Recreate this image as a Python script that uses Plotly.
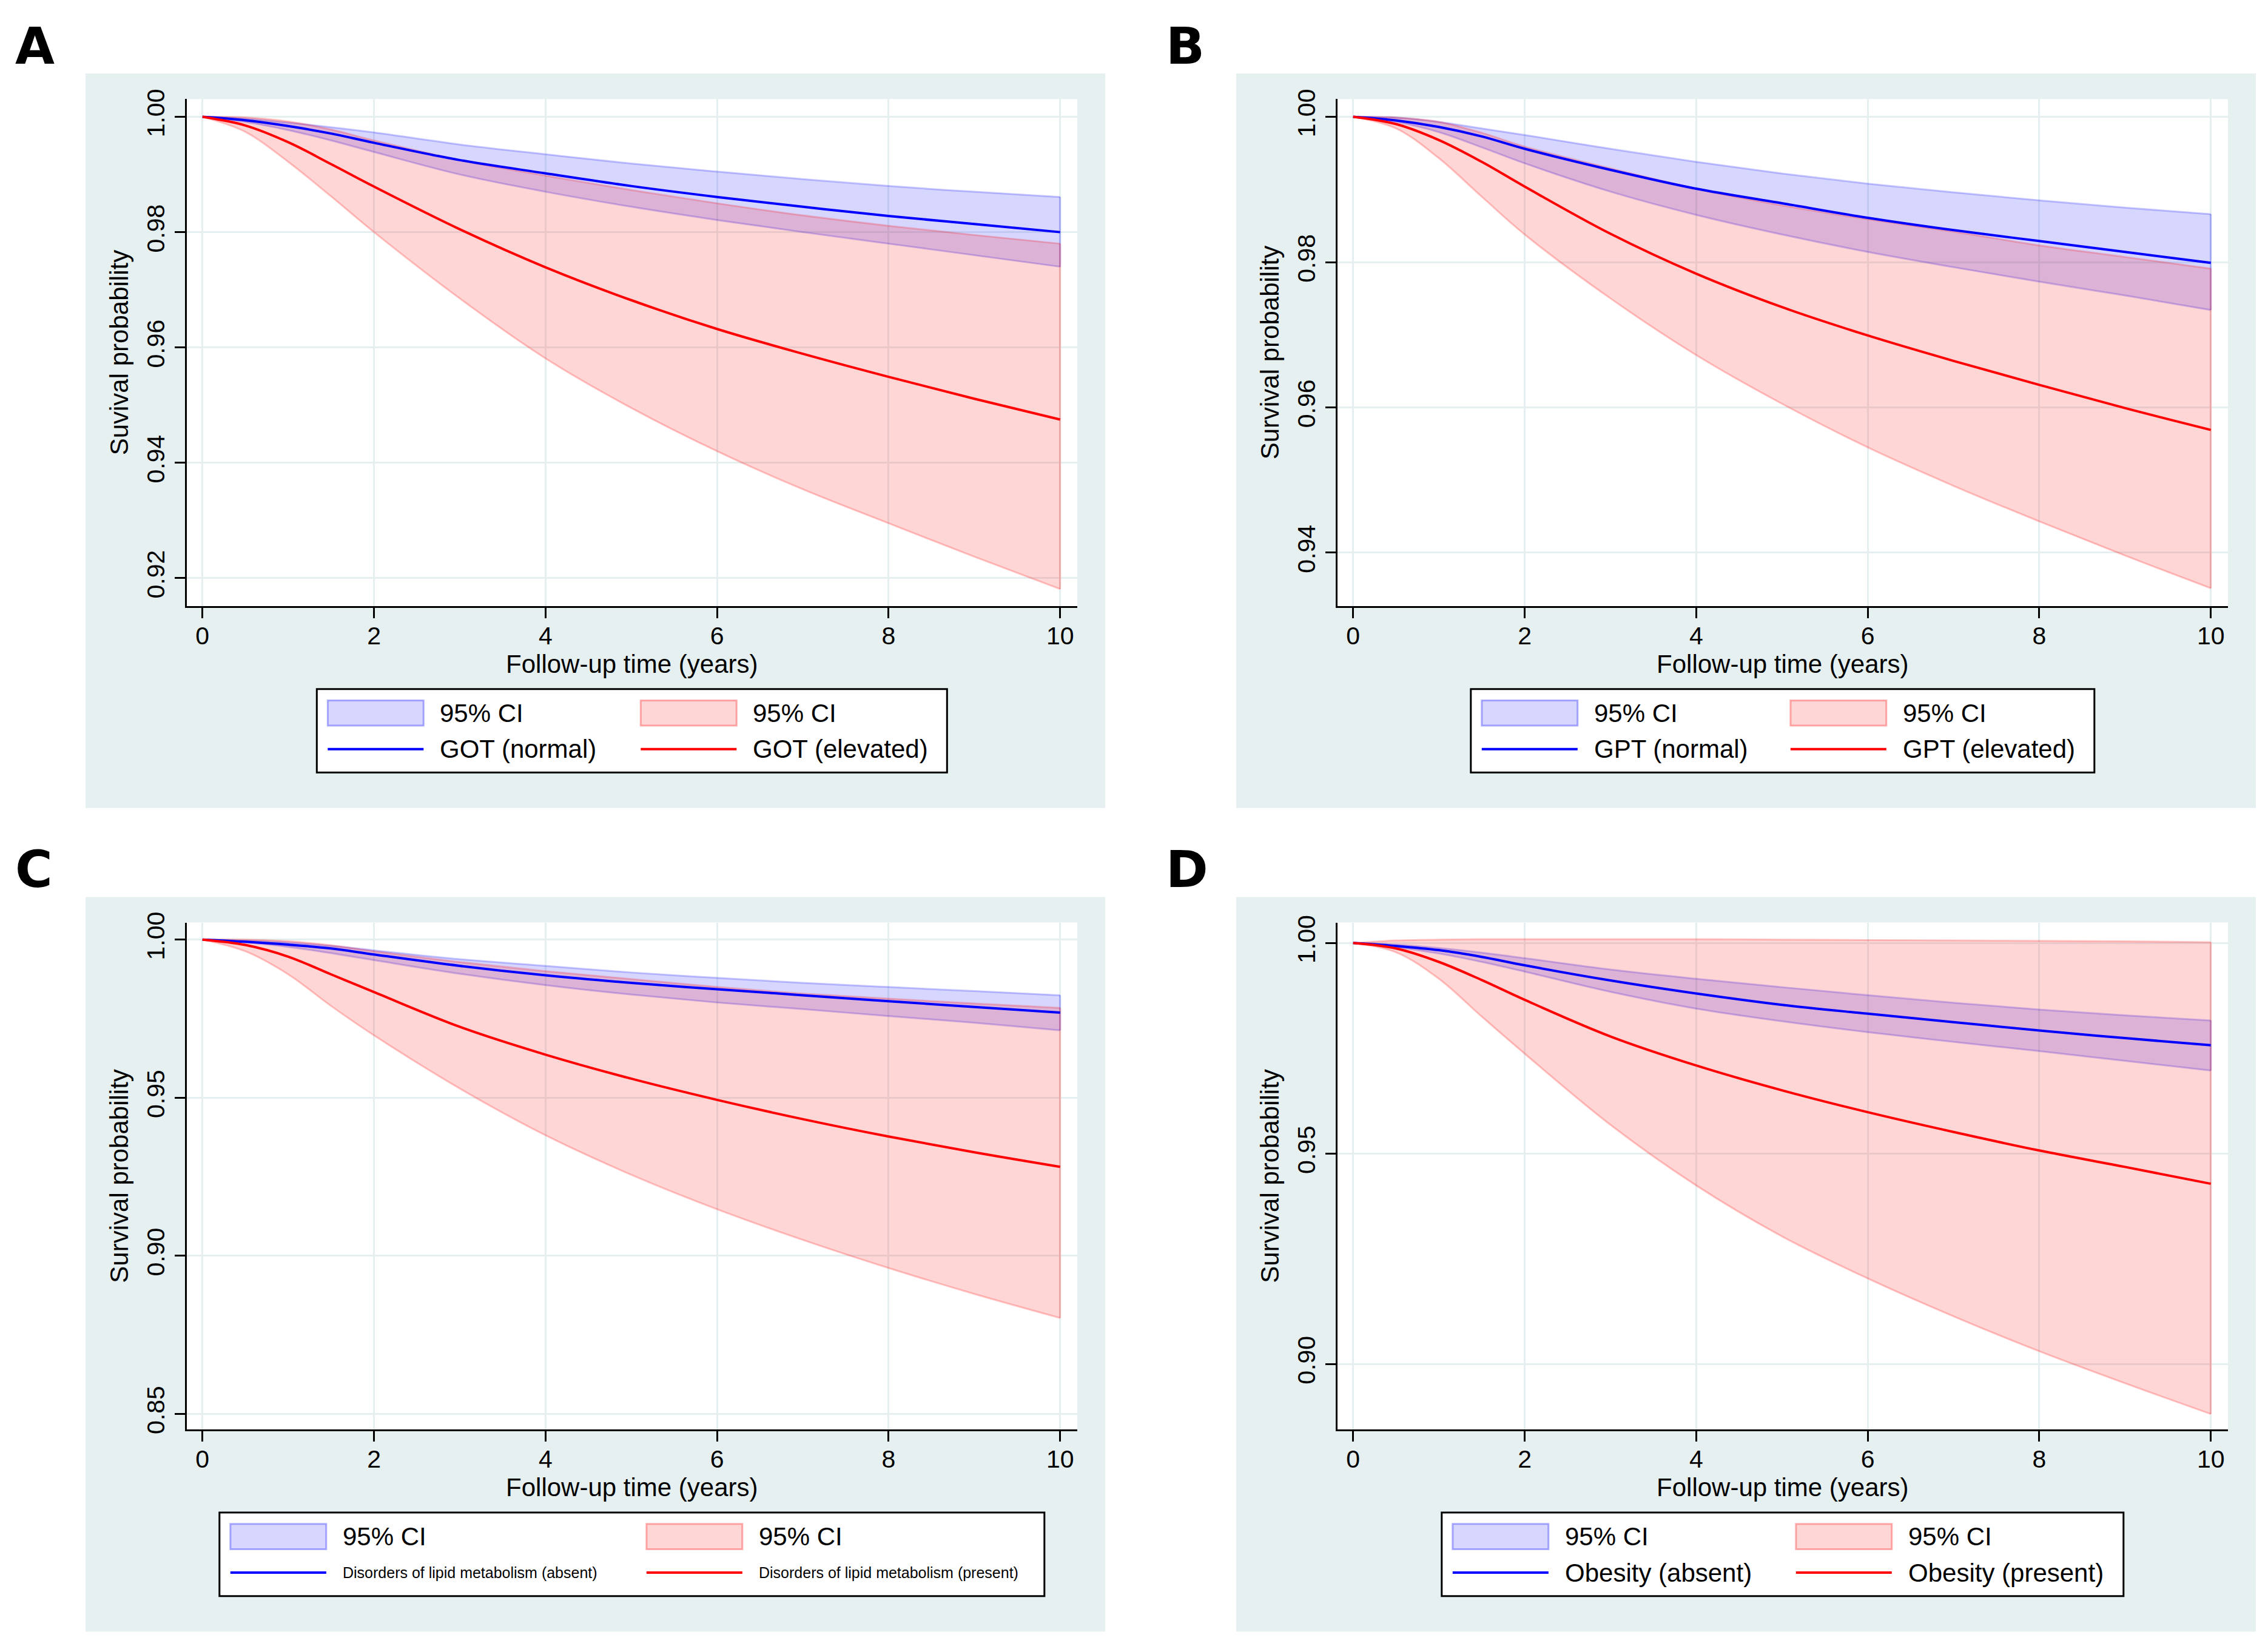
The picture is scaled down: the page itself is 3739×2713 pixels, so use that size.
import plotly.graph_objects as go

W, H = 3739, 2713
OFF = 8  # page margin around the plot div

years = [0, 0.5, 1, 1.5, 2, 3, 4, 5, 6, 7, 8, 9, 10]

# A: GOT
got_normal = [1.0, 0.9994, 0.9984, 0.9971, 0.9955, 0.9925, 0.9902, 0.9880, 0.9861, 0.9844, 0.9828, 0.9814, 0.9800]
got_normal_hi = [1.0, 0.9997, 0.9990, 0.9982, 0.9973, 0.9952, 0.9935, 0.9919, 0.9905, 0.9892, 0.9880, 0.9870, 0.9861]
got_normal_lo = [1.0, 0.9991, 0.9977, 0.9959, 0.9939, 0.9900, 0.9870, 0.9844, 0.9821, 0.9800, 0.9780, 0.9760, 0.9740]
got_elev = [1.0, 0.9985, 0.9956, 0.9918, 0.9879, 0.9805, 0.9739, 0.9682, 0.9632, 0.9589, 0.9549, 0.9511, 0.9475]
got_elev_hi = [1.0, 0.9999, 0.9992, 0.9978, 0.9959, 0.9925, 0.9898, 0.9873, 0.9850, 0.9829, 0.9811, 0.9795, 0.9780]
got_elev_lo = [1.0, 0.9974, 0.9922, 0.9862, 0.9800, 0.9685, 0.9581, 0.9495, 0.9420, 0.9354, 0.9295, 0.9237, 0.9181]

# B: GPT
gpt_normal = [1.0, 0.9995, 0.9986, 0.9973, 0.9956, 0.9927, 0.9901, 0.9881, 0.9861, 0.9844, 0.9829, 0.9814, 0.9799]
gpt_normal_hi = [1.0, 0.9999, 0.9993, 0.9984, 0.9975, 0.9956, 0.9938, 0.9922, 0.9908, 0.9896, 0.9885, 0.9875, 0.9866]
gpt_normal_lo = [1.0, 0.9993, 0.9979, 0.9958, 0.9936, 0.9897, 0.9865, 0.9838, 0.9814, 0.9793, 0.9773, 0.9754, 0.9734]
gpt_elev = [1.0, 0.9990, 0.9968, 0.9938, 0.9904, 0.9839, 0.9784, 0.9738, 0.9699, 0.9664, 0.9631, 0.9599, 0.9569]
gpt_elev_hi = [1.0, 0.9999, 0.9993, 0.9978, 0.9959, 0.9929, 0.9901, 0.9878, 0.9859, 0.9842, 0.9823, 0.9807, 0.9791]
gpt_elev_lo = [1.0, 0.9984, 0.9943, 0.9890, 0.9838, 0.9750, 0.9672, 0.9605, 0.9545, 0.9492, 0.9443, 0.9396, 0.9351]

# C: disorders of lipid metabolism
lipid_absent = [1.0, 0.9993, 0.9984, 0.9972, 0.9953, 0.9917, 0.9887, 0.9863, 0.9843, 0.9824, 0.9805, 0.9787, 0.9769]
lipid_absent_hi = [1.0, 0.9997, 0.9991, 0.9980, 0.9966, 0.9938, 0.9917, 0.9896, 0.9879, 0.9863, 0.9850, 0.9837, 0.9824]
lipid_absent_lo = [1.0, 0.9991, 0.9977, 0.9957, 0.9935, 0.9892, 0.9856, 0.9826, 0.9801, 0.9780, 0.9758, 0.9737, 0.9713]
lipid_present = [1.0, 0.9983, 0.9946, 0.9890, 0.9834, 0.9724, 0.9636, 0.9560, 0.9493, 0.9432, 0.9377, 0.9327, 0.9281]
lipid_present_hi = [1.0, 1.0, 0.9995, 0.9982, 0.9963, 0.9929, 0.9900, 0.9875, 0.9850, 0.9829, 0.9813, 0.9798, 0.9784]
lipid_present_lo = [1.0, 0.9963, 0.9890, 0.9790, 0.9697, 0.9529, 0.9381, 0.9256, 0.9147, 0.9050, 0.8961, 0.8879, 0.8803]

# D: obesity
obes_absent = [1.0, 0.9993, 0.9983, 0.9967, 0.9947, 0.9911, 0.9880, 0.9853, 0.9832, 0.9812, 0.9792, 0.9774, 0.9757]
obes_absent_hi = [1.0, 0.9996, 0.9988, 0.9977, 0.9964, 0.9937, 0.9915, 0.9895, 0.9876, 0.9858, 0.9842, 0.9828, 0.9816]
obes_absent_lo = [1.0, 0.9990, 0.9975, 0.9955, 0.9932, 0.9884, 0.9844, 0.9814, 0.9788, 0.9765, 0.9743, 0.9720, 0.9697]
obes_present = [1.0, 0.9987, 0.9955, 0.9912, 0.9865, 0.9778, 0.9709, 0.9650, 0.9598, 0.9551, 0.9507, 0.9468, 0.9428]
obes_present_hi = [1.0, 1.0006, 1.0008, 1.0009, 1.0009, 1.0009, 1.0009, 1.0008, 1.0007, 1.0006, 1.0005, 1.0004, 1.0002]
obes_present_lo = [1.0, 0.9978, 0.9915, 0.9825, 0.9737, 0.9568, 0.9424, 0.9303, 0.9203, 0.9113, 0.9030, 0.8954, 0.8881]

x_ticks = [0, 2, 4, 6, 8, 10]
y_ticks_a = [0.92, 0.94, 0.96, 0.98, 1.00]
y_ticks_b = [0.94, 0.96, 0.98, 1.00]
y_ticks_c = [0.85, 0.90, 0.95, 1.00]
y_ticks_d = [0.90, 0.95, 1.00]

names_a = ["GOT (normal)", "GOT (elevated)"]
names_b = ["GPT (normal)", "GPT (elevated)"]
names_c = ["Disorders of lipid metabolism (absent)", "Disorders of lipid metabolism (present)"]
names_d = ["Obesity (absent)", "Obesity (present)"]

panels = [
    dict(letter="A", col=0, row=0, ylab="Suvival probability", yticks=y_ticks_a, yrange=[0.91514, 1.00309],
         blue=(got_normal, got_normal_lo, got_normal_hi), red=(got_elev, got_elev_lo, got_elev_hi),
         names=names_a, leg_w=1039, col_w=516, small=False),
    dict(letter="B", col=1, row=0, ylab="Survival probability", yticks=y_ticks_b, yrange=[0.93265, 1.00245],
         blue=(gpt_normal, gpt_normal_lo, gpt_normal_hi), red=(gpt_elev, gpt_elev_lo, gpt_elev_hi),
         names=names_b, leg_w=1028, col_w=509, small=False),
    dict(letter="C", col=0, row=1, ylab="Survival probability", yticks=y_ticks_c, yrange=[0.8450, 1.0054],
         blue=(lipid_absent, lipid_absent_lo, lipid_absent_hi), red=(lipid_present, lipid_present_lo, lipid_present_hi),
         names=names_c, leg_w=1360, col_w=686, small=True),
    dict(letter="D", col=1, row=1, ylab="Survival probability", yticks=y_ticks_d, yrange=[0.8844, 1.00486],
         blue=(obes_absent, obes_absent_lo, obes_absent_hi), red=(obes_present, obes_present_lo, obes_present_hi),
         names=names_d, leg_w=1124, col_w=566, small=False),
]

FONT = "Liberation Sans, Arial, sans-serif"
PANEL_BG = "#e6f0f0"
GRID = "#e6eff0"
BLUE_FILL = "rgba(0,0,255,0.16)"
RED_FILL = "rgba(255,0,0,0.16)"
BLUE_EDGE = "rgba(0,0,255,0.22)"
RED_EDGE = "rgba(255,0,0,0.22)"

# panel geometry in page pixels
col_x = [141, 2038]
row_y = [104, 1474]
panel_w, panel_h = 1681, 1222
plot_x0, plot_x1 = 166.6, 1635
plot_y0, plot_y1 = 42.5, 886

FIG_W, FIG_H = W - OFF, H - OFF


def px(x):
    return (x - OFF) / FIG_W


def py(y):
    return 1 - (y - OFF) / FIG_H


fig = go.Figure()
shapes = []
annotations = []
layout_axes = {}

for i, p in enumerate(panels):
    n = i + 1
    xa = "x" if n == 1 else f"x{n}"
    ya = "y" if n == 1 else f"y{n}"
    ox, oy = col_x[p["col"]], row_y[p["row"]]

    # grey panel background and white plot region
    shapes.append(dict(type="rect", xref="paper", yref="paper", layer="below",
                       x0=px(ox), x1=px(ox + panel_w), y0=py(oy + panel_h), y1=py(oy),
                       fillcolor=PANEL_BG, line_width=0))
    shapes.append(dict(type="rect", xref="paper", yref="paper", layer="below",
                       x0=px(ox + plot_x0), x1=px(ox + plot_x1), y0=py(oy + plot_y1), y1=py(oy + plot_y0),
                       fillcolor="white", line_width=0))

    for (est, lo, hi), fill, edge in ((p["blue"], BLUE_FILL, BLUE_EDGE), (p["red"], RED_FILL, RED_EDGE)):
        fig.add_trace(go.Scatter(x=years, y=lo, mode="lines", xaxis=xa, yaxis=ya,
                                 line=dict(color=edge, width=3, shape="spline"),
                                 showlegend=False, hoverinfo="skip"))
        fig.add_trace(go.Scatter(x=years, y=hi, mode="lines", xaxis=xa, yaxis=ya, fill="tonexty",
                                 fillcolor=fill, line=dict(color=edge, width=3, shape="spline"),
                                 showlegend=False, hoverinfo="skip"))
        fig.add_trace(go.Scatter(x=[years[-1], years[-1]], y=[lo[-1], hi[-1]], mode="lines",
                                 xaxis=xa, yaxis=ya, line=dict(color=edge, width=3),
                                 showlegend=False, hoverinfo="skip"))
    for est, color, name in ((p["blue"][0], "#0000ff", p["names"][0]), (p["red"][0], "#ff0000", p["names"][1])):
        fig.add_trace(go.Scatter(x=years, y=est, mode="lines", name=name, xaxis=xa, yaxis=ya,
                                 line=dict(color=color, width=4, shape="spline"), showlegend=False))

    axis_common = dict(showline=True, linecolor="black", linewidth=3, ticks="outside", ticklen=17,
                       tickwidth=3, tickcolor="black", showgrid=True, gridcolor=GRID, gridwidth=3,
                       zeroline=False, tickfont=dict(family=FONT, size=41, color="black"))
    layout_axes["xaxis" if n == 1 else f"xaxis{n}"] = dict(
        axis_common, anchor=ya, domain=[px(ox + plot_x0), px(ox + plot_x1)],
        range=[-0.185, 10.2], tickvals=x_ticks, ticklabelstandoff=-6,
        title=dict(text="Follow-up time (years)", font=dict(family=FONT, size=42, color="black"), standoff=4))
    layout_axes["yaxis" if n == 1 else f"yaxis{n}"] = dict(
        axis_common, anchor=xa, domain=[py(oy + plot_y1), py(oy + plot_y0)],
        range=p["yrange"], tickvals=p["yticks"], tickformat=".2f", tickangle=-90,
        title=dict(text=p["ylab"], font=dict(family=FONT, size=42, color="black"), standoff=10))

    # panel letter, hung from the top of its row
    annotations.append(dict(text=f"<b>{p['letter']}</b>", xref="paper", yref="paper",
                            x=px(ox - 117), y=py(oy - 96), xanchor="left", yanchor="top",
                            borderpad=0, showarrow=False,
                            font=dict(family="DejaVu Sans", size=84, color="black")))

    # legend box below the plot
    cx = ox + (plot_x0 + plot_x1) / 2
    lx0 = cx - p["leg_w"] / 2
    ly0, ly1 = oy + 1024, oy + 1163
    shapes.append(dict(type="rect", xref="paper", yref="paper", layer="above",
                       x0=px(lx0), x1=px(lx0 + p["leg_w"]), y0=py(ly1), y1=py(ly0),
                       fillcolor="white", line=dict(color="black", width=3)))
    rows = [oy + 1064, oy + 1124]
    for k, (fill, edge, color) in enumerate(((BLUE_FILL, "rgba(0,0,255,0.3)", "#0000ff"),
                                             (RED_FILL, "rgba(255,0,0,0.3)", "#ff0000"))):
        sx = lx0 + 18 + k * p["col_w"]
        shapes.append(dict(type="rect", xref="paper", yref="paper", layer="above",
                           x0=px(sx), x1=px(sx + 158), y0=py(rows[0] + 21), y1=py(rows[0] - 21),
                           fillcolor=fill, line=dict(color=edge, width=3)))
        shapes.append(dict(type="line", xref="paper", yref="paper", layer="above",
                           x0=px(sx), x1=px(sx + 158), y0=py(rows[1]), y1=py(rows[1]),
                           line=dict(color=color, width=4)))
        annotations.append(dict(text="95% CI", xref="paper", yref="paper", x=px(sx + 183), y=py(rows[0]),
                                xanchor="left", yanchor="middle", showarrow=False,
                                font=dict(family=FONT, size=42, color="black")))
        annotations.append(dict(text=p["names"][k], xref="paper", yref="paper", x=px(sx + 183), y=py(rows[1]),
                                xanchor="left", yanchor="middle", showarrow=False,
                                font=dict(family=FONT, size=25 if p["small"] else 42, color="black")))

fig.update_layout(
    width=FIG_W, height=FIG_H,
    margin=dict(l=0, r=0, t=0, b=0),
    paper_bgcolor="white", plot_bgcolor="white",
    showlegend=False,
    shapes=shapes, annotations=annotations,
    **layout_axes,
)

fig.write_html("out.html")
